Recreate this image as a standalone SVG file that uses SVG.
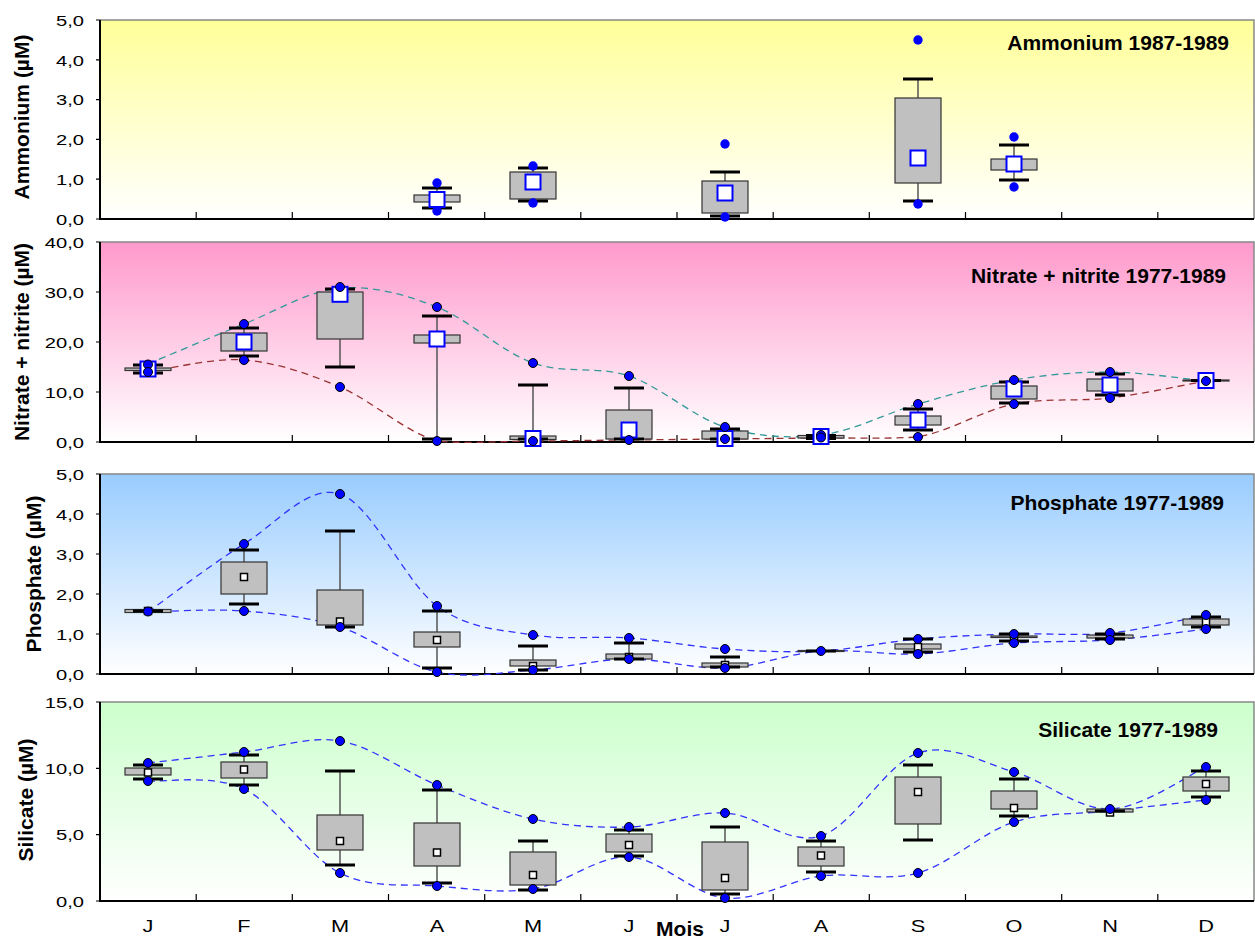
<svg xmlns="http://www.w3.org/2000/svg" width="1255" height="939" viewBox="0 0 1255 939">
<defs>
<linearGradient id="gAmm" x1="0" y1="0" x2="0" y2="1"><stop offset="0" stop-color="#FFFF99"/><stop offset="1" stop-color="#FFFFFF"/></linearGradient>
<linearGradient id="gNit" x1="0" y1="0" x2="0" y2="1"><stop offset="0" stop-color="#FF99CC"/><stop offset="1" stop-color="#FFFFFF"/></linearGradient>
<linearGradient id="gPho" x1="0" y1="0" x2="0" y2="1"><stop offset="0" stop-color="#99CCFF"/><stop offset="1" stop-color="#FFFFFF"/></linearGradient>
<linearGradient id="gSil" x1="0" y1="0" x2="0" y2="1"><stop offset="0" stop-color="#CCFFCC"/><stop offset="1" stop-color="#FFFFFF"/></linearGradient>
<style>
.frame{fill:none;stroke:#888;stroke-width:1.5}
.ax{stroke:#000;stroke-width:2;fill:none}
.tk{stroke:#000;stroke-width:1.2}
.tl{font-family:"Liberation Sans",Arial,sans-serif;font-size:15.5px;fill:#000;text-anchor:end}
.ml{font-family:"Liberation Sans",Arial,sans-serif;font-size:17px;fill:#000;text-anchor:middle}
.yt{font-family:"Liberation Sans",Arial,sans-serif;font-size:21px;font-weight:bold;fill:#000;text-anchor:middle}
.tt{font-family:"Liberation Sans",Arial,sans-serif;font-size:21px;font-weight:bold;fill:#000;text-anchor:end}
.box{fill:#C0C0C0;stroke:#333;stroke-width:1.2}
.wh{stroke:#555;stroke-width:1.5}
.cap{stroke:#000;stroke-width:3}
.mL{fill:#fff;stroke:#0000FF;stroke-width:2}
.mS{fill:#fff;stroke:#000;stroke-width:1.5}
.dA{fill:#0000FF}
.d{fill:#0000FF;stroke:#000;stroke-width:1}
.cT{fill:none;stroke:#339999;stroke-width:1.3;stroke-dasharray:7 5}
.cR{fill:none;stroke:#993333;stroke-width:1.3;stroke-dasharray:7 5}
.cB{fill:none;stroke:#3333FF;stroke-width:1.3;stroke-dasharray:7 5}
</style>
</defs>

<!-- Panel backgrounds & axes -->
<g id="panel-ammonium">
<rect x="100" y="20" width="1154" height="199" fill="url(#gAmm)"/>
<polyline class="frame" points="100,20 1254,20 1254,219"/>
<polyline class="ax" points="100,20 100,219 1254,219"/>
<path class="tk" d="M96,219H100M96,179.2H100M96,139.4H100M96,99.6H100M96,59.8H100M96,20H100M196.2,219V212M292.3,219V212M388.5,219V212M484.7,219V212M580.8,219V212M677,219V212M773.2,219V212M869.3,219V212M965.5,219V212M1061.7,219V212M1157.8,219V212"/>
<text class="tl" transform="translate(84,224.7) scale(1.3,1)">0,0</text>
<text class="tl" transform="translate(84,184.9) scale(1.3,1)">1,0</text>
<text class="tl" transform="translate(84,145.1) scale(1.3,1)">2,0</text>
<text class="tl" transform="translate(84,105.3) scale(1.3,1)">3,0</text>
<text class="tl" transform="translate(84,65.5) scale(1.3,1)">4,0</text>
<text class="tl" transform="translate(84,25.7) scale(1.3,1)">5,0</text>
<text class="yt" transform="translate(29,117) rotate(-90)">Ammonium (µM)</text>
<text class="tt" x="1229" y="50">Ammonium 1987-1989</text>
</g>

<g id="panel-nitrate">
<rect x="100" y="242" width="1154" height="200" fill="url(#gNit)"/>
<polyline class="frame" points="100,242 1254,242 1254,442"/>
<polyline class="ax" points="100,242 100,442 1254,442"/>
<path class="tk" d="M96,442H100M96,392H100M96,342H100M96,292H100M96,242H100M196.2,442V435M292.3,442V435M388.5,442V435M484.7,442V435M580.8,442V435M677,442V435M773.2,442V435M869.3,442V435M965.5,442V435M1061.7,442V435M1157.8,442V435"/>
<text class="tl" transform="translate(84,447.7) scale(1.3,1)">0,0</text>
<text class="tl" transform="translate(84,397.7) scale(1.3,1)">10,0</text>
<text class="tl" transform="translate(84,347.7) scale(1.3,1)">20,0</text>
<text class="tl" transform="translate(84,297.7) scale(1.3,1)">30,0</text>
<text class="tl" transform="translate(84,247.7) scale(1.3,1)">40,0</text>
<text class="yt" transform="translate(29,342) rotate(-90)">Nitrate + nitrite (µM)</text>
<text class="tt" x="1226" y="283">Nitrate + nitrite 1977-1989</text>
</g>

<g id="panel-phosphate">
<rect x="100" y="474" width="1154" height="200" fill="url(#gPho)"/>
<polyline class="frame" points="100,474 1254,474 1254,674"/>
<polyline class="ax" points="100,474 100,674 1254,674"/>
<path class="tk" d="M96,674H100M96,634H100M96,594H100M96,554H100M96,514H100M96,474H100M196.2,674V667M292.3,674V667M388.5,674V667M484.7,674V667M580.8,674V667M677,674V667M773.2,674V667M869.3,674V667M965.5,674V667M1061.7,674V667M1157.8,674V667"/>
<text class="tl" transform="translate(84,679.7) scale(1.3,1)">0,0</text>
<text class="tl" transform="translate(84,639.7) scale(1.3,1)">1,0</text>
<text class="tl" transform="translate(84,599.7) scale(1.3,1)">2,0</text>
<text class="tl" transform="translate(84,559.7) scale(1.3,1)">3,0</text>
<text class="tl" transform="translate(84,519.7) scale(1.3,1)">4,0</text>
<text class="tl" transform="translate(84,479.7) scale(1.3,1)">5,0</text>
<text class="yt" transform="translate(41,574) rotate(-90)">Phosphate (µM)</text>
<text class="tt" x="1224" y="510">Phosphate 1977-1989</text>
</g>

<g id="panel-silicate">
<rect x="100" y="702" width="1154" height="199" fill="url(#gSil)"/>
<polyline class="frame" points="100,702 1254,702 1254,901"/>
<polyline class="ax" points="100,702 100,901 1254,901"/>
<path class="tk" d="M96,901H100M96,834.7H100M96,768.3H100M96,702H100M196.2,901V894M292.3,901V894M388.5,901V894M484.7,901V894M580.8,901V894M677,901V894M773.2,901V894M869.3,901V894M965.5,901V894M1061.7,901V894M1157.8,901V894"/>
<text class="tl" transform="translate(84,906.7) scale(1.3,1)">0,0</text>
<text class="tl" transform="translate(84,840.4) scale(1.3,1)">5,0</text>
<text class="tl" transform="translate(84,774) scale(1.3,1)">10,0</text>
<text class="tl" transform="translate(84,707.7) scale(1.3,1)">15,0</text>
<text class="yt" transform="translate(33,800) rotate(-90)">Silicate (µM)</text>
<text class="tt" x="1218" y="737">Silicate 1977-1989</text>
<text class="ml" transform="translate(148,932) scale(1.28,1)">J</text>
<text class="ml" transform="translate(244,932) scale(1.28,1)">F</text>
<text class="ml" transform="translate(340,932) scale(1.28,1)">M</text>
<text class="ml" transform="translate(437,932) scale(1.28,1)">A</text>
<text class="ml" transform="translate(533,932) scale(1.28,1)">M</text>
<text class="ml" transform="translate(629,932) scale(1.28,1)">J</text>
<text class="ml" transform="translate(725,932) scale(1.28,1)">J</text>
<text class="ml" transform="translate(821,932) scale(1.28,1)">A</text>
<text class="ml" transform="translate(918,932) scale(1.28,1)">S</text>
<text class="ml" transform="translate(1014,932) scale(1.28,1)">O</text>
<text class="ml" transform="translate(1110,932) scale(1.28,1)">N</text>
<text class="ml" transform="translate(1206,932) scale(1.28,1)">D</text>
<text class="yt" x="680" y="936">Mois</text>
</g>

<!-- Connectors -->
<g id="connectors">
<path class="cT" d="M148,364 C164,357.3 212,336.8 244,324 C276,311.2 308,291 340,288 C372,285.5 405,294.3 437,307 C469,319.7 501,351.5 533,363 C565,374.5 597,365.3 629,376 C661,386.7 693,417.2 725,427 C757,436.8 789,438.8 821,435 C853,431.2 886,413.2 918,404 C950,394.8 982,385.3 1014,380 C1046,374.7 1078,371.8 1110,372 C1142,372.2 1190,379.5 1206,381"/>
<path class="cR" d="M148,372 C164,370 212,357.5 244,360 C276,362.5 308,373.5 340,387 C372,400.5 405,432 437,441 C469,444 501,441.2 533,441 C565,440.8 597,440.3 629,440 C661,439.7 693,439.3 725,439 C757,438.7 789,438.3 821,438 C853,437.7 886,439 918,437 C950,431.3 982,410.5 1014,404 C1046,397.5 1078,401.8 1110,398 C1142,394.2 1190,383.8 1206,381"/>
<path class="cB" d="M148,612 C164,600.7 212,563.7 244,544 C276,524.3 308,483.7 340,494 C372,504.3 405,582.5 437,606 C469,629.5 501,629.7 533,635 C565,640.3 597,635.7 629,638 C661,640.3 693,646.8 725,649 C757,651.2 789,652.7 821,651 C853,649.3 886,641.8 918,639 C950,636.2 982,635 1014,634 C1046,633 1078,636.2 1110,633 C1142,629.8 1190,618 1206,615"/>
<path class="cB" d="M148,612 C164,611.8 212,608.5 244,611 C276,613.5 308,616.8 340,627 C372,637.2 405,664.8 437,672 C469,679.2 501,672.2 533,670 C565,667.8 597,659.3 629,659 C661,658.7 693,669.3 725,668 C757,666.7 789,653.3 821,651 C853,648.7 886,655.3 918,654 C950,652.7 982,645.3 1014,643 C1046,640.7 1078,642.3 1110,640 C1142,637.7 1190,630.8 1206,629"/>
<path class="cB" d="M148,763 C164,761.2 212,755.7 244,752 C276,748.3 308,735.5 340,741 C372,746.5 405,772 437,785 C469,798 501,812 533,819 C565,826 597,828 629,827 C661,826 693,811.5 725,813 C757,814.5 789,846 821,836 C853,826 886,763.7 918,753 C950,742.3 982,762.7 1014,772 C1046,781.3 1078,809.8 1110,809 C1142,808.2 1190,774 1206,767"/>
<path class="cB" d="M148,781 C164,782.3 212,773.7 244,789 C276,804.3 308,856.8 340,873 C372,889.2 405,883.3 437,886 C469,888.7 501,893.8 533,889 C565,884.2 597,855.5 629,857 C661,858.5 693,894.8 725,898 C757,901.2 789,880.2 821,876 C853,871.8 886,882 918,873 C950,864 982,832.3 1014,822 C1046,811.7 1078,814.7 1110,811 C1142,807.3 1190,801.8 1206,800"/>
</g>

<!-- Ammonium nodes -->
<g id="amm-apr"><line class="wh" x1="437" y1="188" x2="437" y2="208"/><rect class="box" x="414" y="195" width="46" height="7"/><line class="cap" x1="422" y1="188" x2="452" y2="188"/><line class="cap" x1="422" y1="208" x2="452" y2="208"/><rect class="mL" x="429.5" y="192" width="15" height="15"/><circle class="dA" cx="437" cy="183" r="4.7"/><circle class="dA" cx="437" cy="211" r="4.7"/></g>
<g id="amm-may"><line class="wh" x1="533" y1="168" x2="533" y2="201"/><rect class="box" x="510" y="172" width="46" height="27"/><line class="cap" x1="518" y1="168" x2="548" y2="168"/><line class="cap" x1="518" y1="201" x2="548" y2="201"/><rect class="mL" x="525.5" y="174.5" width="15" height="15"/><circle class="dA" cx="533" cy="166" r="4.7"/><circle class="dA" cx="533" cy="203" r="4.7"/></g>
<g id="amm-jul"><line class="wh" x1="725" y1="172" x2="725" y2="216"/><rect class="box" x="702" y="181" width="46" height="32"/><line class="cap" x1="710" y1="172" x2="740" y2="172"/><line class="cap" x1="710" y1="216" x2="740" y2="216"/><rect class="mL" x="717.5" y="185.5" width="15" height="15"/><circle class="dA" cx="725" cy="144" r="4.7"/><circle class="dA" cx="725" cy="217" r="4.7"/></g>
<g id="amm-sep"><line class="wh" x1="918" y1="79" x2="918" y2="201"/><rect class="box" x="895" y="98" width="46" height="85"/><line class="cap" x1="903" y1="79" x2="933" y2="79"/><line class="cap" x1="903" y1="201" x2="933" y2="201"/><rect class="mL" x="910.5" y="150.5" width="15" height="15"/><circle class="dA" cx="918" cy="40" r="4.7"/><circle class="dA" cx="918" cy="204" r="4.7"/></g>
<g id="amm-oct"><line class="wh" x1="1014" y1="145" x2="1014" y2="180"/><rect class="box" x="991" y="159" width="46" height="11"/><line class="cap" x1="999" y1="145" x2="1029" y2="145"/><line class="cap" x1="999" y1="180" x2="1029" y2="180"/><rect class="mL" x="1006.5" y="156.5" width="15" height="15"/><circle class="dA" cx="1014" cy="137" r="4.7"/><circle class="dA" cx="1014" cy="187" r="4.7"/></g>

<!-- Nitrate nodes -->
<g id="nit-jan"><line class="wh" x1="148" y1="365" x2="148" y2="373"/><rect class="box" x="125" y="368" width="46" height="2.5"/><line class="cap" x1="133" y1="365" x2="163" y2="365"/><line class="cap" x1="133" y1="373" x2="163" y2="373"/><rect class="mL" x="140.5" y="361.5" width="15" height="15"/><circle class="d" cx="148" cy="364.5" r="4.5"/><circle class="d" cx="148" cy="372" r="4.5"/></g>
<g id="nit-feb"><line class="wh" x1="244" y1="328" x2="244" y2="356"/><rect class="box" x="221" y="333" width="46" height="18"/><line class="cap" x1="229" y1="328" x2="259" y2="328"/><line class="cap" x1="229" y1="356" x2="259" y2="356"/><rect class="mL" x="236.5" y="334.5" width="15" height="15"/><circle class="d" cx="244" cy="324" r="4.5"/><circle class="d" cx="244" cy="360" r="4.5"/></g>
<g id="nit-mar"><line class="wh" x1="340" y1="289" x2="340" y2="367"/><rect class="box" x="317" y="292" width="46" height="47"/><line class="cap" x1="325" y1="289" x2="355" y2="289"/><line class="cap" x1="325" y1="367" x2="355" y2="367"/><rect class="mL" x="332.5" y="286.8" width="15" height="15"/><circle class="d" cx="340" cy="287" r="4.5"/><circle class="d" cx="340" cy="387" r="4.5"/></g>
<g id="nit-apr"><line class="wh" x1="437" y1="316" x2="437" y2="439"/><rect class="box" x="414" y="335" width="46" height="8"/><line class="cap" x1="422" y1="316" x2="452" y2="316"/><line class="cap" x1="422" y1="439" x2="452" y2="439"/><rect class="mL" x="429.5" y="331.5" width="15" height="15"/><circle class="d" cx="437" cy="307" r="4.5"/><circle class="d" cx="437" cy="441" r="4.5"/></g>
<g id="nit-may"><line class="wh" x1="533" y1="385" x2="533" y2="439"/><rect class="box" x="510" y="436" width="46" height="3.5"/><line class="cap" x1="518" y1="385" x2="548" y2="385"/><line class="cap" x1="518" y1="439" x2="548" y2="439"/><rect class="mL" x="525.5" y="431" width="15" height="15"/><circle class="d" cx="533" cy="363" r="4.5"/><circle class="d" cx="533" cy="441" r="4.5"/></g>
<g id="nit-jun"><line class="wh" x1="629" y1="388" x2="629" y2="439"/><rect class="box" x="606" y="410" width="46" height="29"/><line class="cap" x1="614" y1="388" x2="644" y2="388"/><line class="cap" x1="614" y1="439" x2="644" y2="439"/><rect class="mL" x="621.5" y="422.5" width="15" height="15"/><circle class="d" cx="629" cy="376" r="4.5"/><circle class="d" cx="629" cy="440" r="4.5"/></g>
<g id="nit-jul"><line class="wh" x1="725" y1="429" x2="725" y2="439"/><rect class="box" x="702" y="431" width="46" height="8"/><line class="cap" x1="710" y1="429" x2="740" y2="429"/><line class="cap" x1="710" y1="439" x2="740" y2="439"/><rect class="mL" x="717.5" y="431" width="15" height="15"/><circle class="d" cx="725" cy="427" r="4.5"/><circle class="d" cx="725" cy="439" r="4.5"/></g>
<g id="nit-aug"><rect class="box" x="798" y="435.5" width="46" height="2.5"/><line class="cap" x1="806" y1="435.5" x2="836" y2="435.5"/><line class="cap" x1="806" y1="438.5" x2="836" y2="438.5"/><rect class="mL" x="813.5" y="429" width="15" height="15"/><circle class="d" cx="821" cy="435" r="4.5"/><circle class="d" cx="821" cy="437.5" r="4.5"/></g>
<g id="nit-sep"><line class="wh" x1="918" y1="409" x2="918" y2="430"/><rect class="box" x="895" y="416" width="46" height="9"/><line class="cap" x1="903" y1="409" x2="933" y2="409"/><line class="cap" x1="903" y1="430" x2="933" y2="430"/><rect class="mL" x="910.5" y="412.5" width="15" height="15"/><circle class="d" cx="918" cy="404" r="4.5"/><circle class="d" cx="918" cy="437" r="4.5"/></g>
<g id="nit-oct"><line class="wh" x1="1014" y1="382" x2="1014" y2="403"/><rect class="box" x="991" y="386" width="46" height="13"/><line class="cap" x1="999" y1="382" x2="1029" y2="382"/><line class="cap" x1="999" y1="403" x2="1029" y2="403"/><rect class="mL" x="1006.5" y="381.5" width="15" height="15"/><circle class="d" cx="1014" cy="380" r="4.5"/><circle class="d" cx="1014" cy="404" r="4.5"/></g>
<g id="nit-nov"><line class="wh" x1="1110" y1="374" x2="1110" y2="395"/><rect class="box" x="1087" y="379" width="46" height="12"/><line class="cap" x1="1095" y1="374" x2="1125" y2="374"/><line class="cap" x1="1095" y1="395" x2="1125" y2="395"/><rect class="mL" x="1102.5" y="377.5" width="15" height="15"/><circle class="d" cx="1110" cy="372" r="4.5"/><circle class="d" cx="1110" cy="398" r="4.5"/></g>
<g id="nit-dec"><rect class="box" x="1183" y="380" width="46" height="1"/><line class="cap" x1="1191" y1="380.5" x2="1221" y2="380.5"/><rect class="mL" x="1198.5" y="373" width="15" height="15"/><circle class="d" cx="1206" cy="381" r="4.5"/></g>

<!-- Phosphate nodes -->
<g id="pho-jan"><rect class="box" x="125" y="609.5" width="46" height="3"/><line class="cap" x1="133" y1="611" x2="163" y2="611"/><rect class="mS" x="144.5" y="607.5" width="7" height="7"/><circle class="d" cx="148" cy="611.5" r="4.5"/></g>
<g id="pho-feb"><line class="wh" x1="244" y1="550" x2="244" y2="604"/><rect class="box" x="221" y="562" width="46" height="32"/><line class="cap" x1="229" y1="550" x2="259" y2="550"/><line class="cap" x1="229" y1="604" x2="259" y2="604"/><rect class="mS" x="240.5" y="573.5" width="7" height="7"/><circle class="d" cx="244" cy="544" r="4.5"/><circle class="d" cx="244" cy="611" r="4.5"/></g>
<g id="pho-mar"><line class="wh" x1="340" y1="531" x2="340" y2="627"/><rect class="box" x="317" y="590" width="46" height="35"/><line class="cap" x1="325" y1="531" x2="355" y2="531"/><line class="cap" x1="325" y1="627" x2="355" y2="627"/><rect class="mS" x="336.5" y="618" width="7" height="7"/><circle class="d" cx="340" cy="494" r="4.5"/><circle class="d" cx="340" cy="627" r="4.5"/></g>
<g id="pho-apr"><line class="wh" x1="437" y1="611" x2="437" y2="668"/><rect class="box" x="414" y="632" width="46" height="15"/><line class="cap" x1="422" y1="611" x2="452" y2="611"/><line class="cap" x1="422" y1="668" x2="452" y2="668"/><rect class="mS" x="433.5" y="636.5" width="7" height="7"/><circle class="d" cx="437" cy="606" r="4.5"/><circle class="d" cx="437" cy="672" r="4.5"/></g>
<g id="pho-may"><line class="wh" x1="533" y1="646" x2="533" y2="670"/><rect class="box" x="510" y="660" width="46" height="6"/><line class="cap" x1="518" y1="646" x2="548" y2="646"/><line class="cap" x1="518" y1="670" x2="548" y2="670"/><rect class="mS" x="529.5" y="662.5" width="7" height="7"/><circle class="d" cx="533" cy="635" r="4.5"/><circle class="d" cx="533" cy="670" r="4.5"/></g>
<g id="pho-jun"><line class="wh" x1="629" y1="643" x2="629" y2="659"/><rect class="box" x="606" y="654" width="46" height="5"/><line class="cap" x1="614" y1="643" x2="644" y2="643"/><line class="cap" x1="614" y1="659" x2="644" y2="659"/><rect class="mS" x="625.5" y="653.5" width="7" height="7"/><circle class="d" cx="629" cy="638" r="4.5"/><circle class="d" cx="629" cy="659" r="4.5"/></g>
<g id="pho-jul"><line class="wh" x1="725" y1="657" x2="725" y2="667"/><rect class="box" x="702" y="663" width="46" height="4"/><line class="cap" x1="710" y1="657" x2="740" y2="657"/><line class="cap" x1="710" y1="667" x2="740" y2="667"/><rect class="mS" x="721.5" y="661.5" width="7" height="7"/><circle class="d" cx="725" cy="649" r="4.5"/><circle class="d" cx="725" cy="668" r="4.5"/></g>
<g id="pho-aug"><rect class="box" x="798" y="650.5" width="46" height="1"/><line class="cap" x1="806" y1="651" x2="836" y2="651"/><circle class="d" cx="821" cy="651" r="4.5"/></g>
<g id="pho-sep"><line class="wh" x1="918" y1="639" x2="918" y2="652"/><rect class="box" x="895" y="644" width="46" height="5"/><line class="cap" x1="903" y1="639" x2="933" y2="639"/><line class="cap" x1="903" y1="652" x2="933" y2="652"/><rect class="mS" x="914.5" y="643.5" width="7" height="7"/><circle class="d" cx="918" cy="639" r="4.5"/><circle class="d" cx="918" cy="654" r="4.5"/></g>
<g id="pho-oct"><rect class="box" x="991" y="636" width="46" height="1.5"/><line class="cap" x1="999" y1="634" x2="1029" y2="634"/><line class="cap" x1="999" y1="641" x2="1029" y2="641"/><rect class="mS" x="1010.5" y="633.5" width="7" height="7"/><circle class="d" cx="1014" cy="634" r="4.5"/><circle class="d" cx="1014" cy="643" r="4.5"/></g>
<g id="pho-nov"><rect class="box" x="1087" y="635" width="46" height="3"/><line class="cap" x1="1095" y1="634" x2="1125" y2="634"/><line class="cap" x1="1095" y1="639" x2="1125" y2="639"/><rect class="mS" x="1106.5" y="633" width="7" height="7"/><circle class="d" cx="1110" cy="633" r="4.5"/><circle class="d" cx="1110" cy="640" r="4.5"/></g>
<g id="pho-dec"><line class="wh" x1="1206" y1="617" x2="1206" y2="627"/><rect class="box" x="1183" y="619" width="46" height="6"/><line class="cap" x1="1191" y1="617" x2="1221" y2="617"/><line class="cap" x1="1191" y1="627" x2="1221" y2="627"/><rect class="mS" x="1202.5" y="618.5" width="7" height="7"/><circle class="d" cx="1206" cy="615" r="4.5"/><circle class="d" cx="1206" cy="629" r="4.5"/></g>

<!-- Silicate nodes -->
<g id="sil-jan"><line class="wh" x1="148" y1="765" x2="148" y2="779"/><rect class="box" x="125" y="768" width="46" height="7"/><line class="cap" x1="133" y1="765" x2="163" y2="765"/><line class="cap" x1="133" y1="779" x2="163" y2="779"/><rect class="mS" x="144.5" y="769" width="7" height="7"/><circle class="d" cx="148" cy="763" r="4.5"/><circle class="d" cx="148" cy="781" r="4.5"/></g>
<g id="sil-feb"><line class="wh" x1="244" y1="755" x2="244" y2="785"/><rect class="box" x="221" y="762" width="46" height="16"/><line class="cap" x1="229" y1="755" x2="259" y2="755"/><line class="cap" x1="229" y1="785" x2="259" y2="785"/><rect class="mS" x="240.5" y="766" width="7" height="7"/><circle class="d" cx="244" cy="752" r="4.5"/><circle class="d" cx="244" cy="789" r="4.5"/></g>
<g id="sil-mar"><line class="wh" x1="340" y1="771" x2="340" y2="865"/><rect class="box" x="317" y="815" width="46" height="35"/><line class="cap" x1="325" y1="771" x2="355" y2="771"/><line class="cap" x1="325" y1="865" x2="355" y2="865"/><rect class="mS" x="336.5" y="837.5" width="7" height="7"/><circle class="d" cx="340" cy="741" r="4.5"/><circle class="d" cx="340" cy="873" r="4.5"/></g>
<g id="sil-apr"><line class="wh" x1="437" y1="790" x2="437" y2="883"/><rect class="box" x="414" y="823" width="46" height="43"/><line class="cap" x1="422" y1="790" x2="452" y2="790"/><line class="cap" x1="422" y1="883" x2="452" y2="883"/><rect class="mS" x="433.5" y="849" width="7" height="7"/><circle class="d" cx="437" cy="785" r="4.5"/><circle class="d" cx="437" cy="886" r="4.5"/></g>
<g id="sil-may"><line class="wh" x1="533" y1="841" x2="533" y2="890"/><rect class="box" x="510" y="852" width="46" height="33"/><line class="cap" x1="518" y1="841" x2="548" y2="841"/><line class="cap" x1="518" y1="890" x2="548" y2="890"/><rect class="mS" x="529.5" y="871.5" width="7" height="7"/><circle class="d" cx="533" cy="819" r="4.5"/><circle class="d" cx="533" cy="889" r="4.5"/></g>
<g id="sil-jun"><line class="wh" x1="629" y1="830" x2="629" y2="856"/><rect class="box" x="606" y="834" width="46" height="18"/><line class="cap" x1="614" y1="830" x2="644" y2="830"/><line class="cap" x1="614" y1="856" x2="644" y2="856"/><rect class="mS" x="625.5" y="841.5" width="7" height="7"/><circle class="d" cx="629" cy="827" r="4.5"/><circle class="d" cx="629" cy="857" r="4.5"/></g>
<g id="sil-jul"><line class="wh" x1="725" y1="827" x2="725" y2="894"/><rect class="box" x="702" y="842" width="46" height="48"/><line class="cap" x1="710" y1="827" x2="740" y2="827"/><line class="cap" x1="710" y1="894" x2="740" y2="894"/><rect class="mS" x="721.5" y="874.5" width="7" height="7"/><circle class="d" cx="725" cy="813" r="4.5"/><circle class="d" cx="725" cy="898" r="4.5"/></g>
<g id="sil-aug"><line class="wh" x1="821" y1="841" x2="821" y2="872"/><rect class="box" x="798" y="847" width="46" height="19"/><line class="cap" x1="806" y1="841" x2="836" y2="841"/><line class="cap" x1="806" y1="872" x2="836" y2="872"/><rect class="mS" x="817.5" y="852" width="7" height="7"/><circle class="d" cx="821" cy="836" r="4.5"/><circle class="d" cx="821" cy="876" r="4.5"/></g>
<g id="sil-sep"><line class="wh" x1="918" y1="765" x2="918" y2="840"/><rect class="box" x="895" y="777" width="46" height="47"/><line class="cap" x1="903" y1="765" x2="933" y2="765"/><line class="cap" x1="903" y1="840" x2="933" y2="840"/><rect class="mS" x="914.5" y="788.5" width="7" height="7"/><circle class="d" cx="918" cy="753" r="4.5"/><circle class="d" cx="918" cy="873" r="4.5"/></g>
<g id="sil-oct"><line class="wh" x1="1014" y1="779" x2="1014" y2="816"/><rect class="box" x="991" y="791" width="46" height="18"/><line class="cap" x1="999" y1="779" x2="1029" y2="779"/><line class="cap" x1="999" y1="816" x2="1029" y2="816"/><rect class="mS" x="1010.5" y="804.5" width="7" height="7"/><circle class="d" cx="1014" cy="772" r="4.5"/><circle class="d" cx="1014" cy="822" r="4.5"/></g>
<g id="sil-nov"><rect class="box" x="1087" y="809" width="46" height="3"/><rect class="mS" x="1106.5" y="809" width="7" height="7"/><line class="cap" x1="1095" y1="811" x2="1125" y2="811"/><circle class="d" cx="1110" cy="809" r="4.5"/></g>
<g id="sil-dec"><line class="wh" x1="1206" y1="771" x2="1206" y2="797"/><rect class="box" x="1183" y="777" width="46" height="14"/><line class="cap" x1="1191" y1="771" x2="1221" y2="771"/><line class="cap" x1="1191" y1="797" x2="1221" y2="797"/><rect class="mS" x="1202.5" y="780.5" width="7" height="7"/><circle class="d" cx="1206" cy="767" r="4.5"/><circle class="d" cx="1206" cy="800" r="4.5"/></g>
</svg>
